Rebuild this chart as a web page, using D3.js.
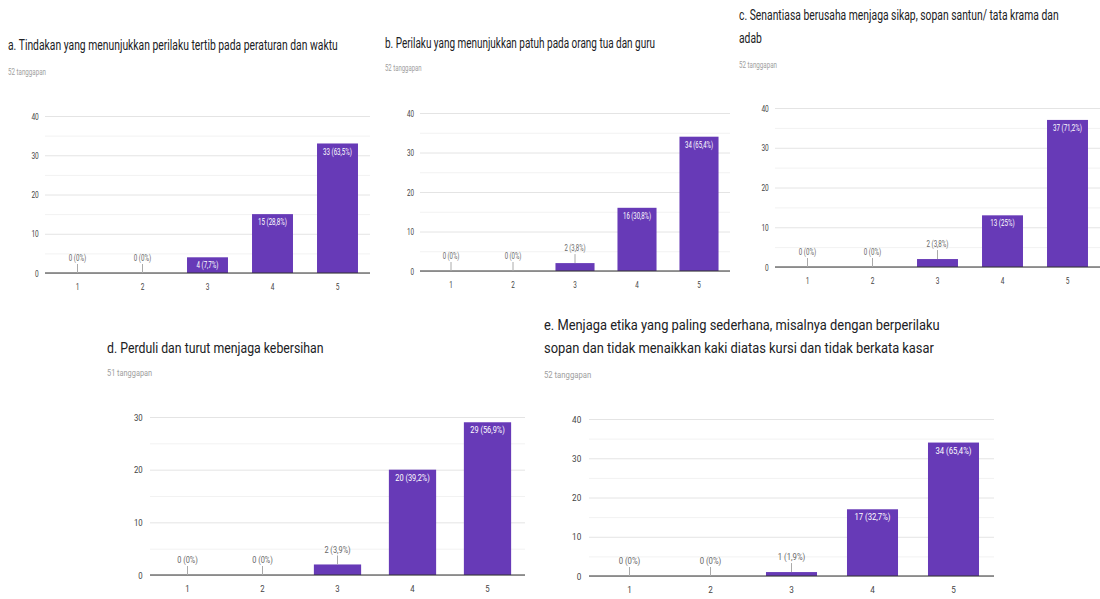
<!DOCTYPE html>
<html><head><meta charset="utf-8">
<script src="https://cdn.jsdelivr.net/npm/d3@7"></script>
<style>
html,body{margin:0;padding:0;background:#fff;}
svg{display:block;font-family:Roboto,"Noto Sans",sans-serif;}
</style></head><body>
<svg id="chart" width="1100" height="599"></svg>
<script>
const categories = ["1","2","3","4","5"];
const titleA = ["a. Tindakan yang menunjukkan perilaku tertib pada peraturan dan waktu"];
const titleB = ["b. Perilaku yang menunjukkan patuh pada orang tua dan guru"];
const titleC = ["c. Senantiasa berusaha menjaga sikap, sopan santun/ tata krama dan", "adab"];
const titleD = ["d. Perduli dan turut menjaga kebersihan"];
const titleE = ["e. Menjaga etika yang paling sederhana, misalnya dengan berperilaku", "sopan dan tidak menaikkan kaki diatas kursi dan tidak berkata kasar"];
const responses = [52, 52, 52, 51, 52];
const valuesA = [0, 0, 4, 15, 33];
const pctA = ["0%", "0%", "7,7%", "28,8%", "63,5%"];
const valuesB = [0, 0, 2, 16, 34];
const pctB = ["0%", "0%", "3,8%", "30,8%", "65,4%"];
const valuesC = [0, 0, 2, 13, 37];
const pctC = ["0%", "0%", "3,8%", "25%", "71,2%"];
const valuesD = [0, 0, 2, 20, 29];
const pctD = ["0%", "0%", "3,9%", "39,2%", "56,9%"];
const valuesE = [0, 0, 1, 17, 34];
const pctE = ["0%", "0%", "1,9%", "32,7%", "65,4%"];
const ticks40 = [0, 10, 20, 30, 40];
const ticks30 = [0, 10, 20, 30];

// layout (positions / horizontal text compression per panel)
const panels = [
  {title: titleA, n: responses[0], vals: valuesA, pct: pctA, ticks: ticks40, max: 40, sx: 0.69,  tx: 8,   ty: [45],       sy: 72,  left: 45,  right: 370,  y0: 273, yTop: 116},
  {title: titleB, n: responses[1], vals: valuesB, pct: pctB, ticks: ticks40, max: 40, sx: 0.665, tx: 385, ty: [43],       sy: 68,  left: 420, right: 730,  y0: 271, yTop: 113},
  {title: titleC, n: responses[2], vals: valuesC, pct: pctC, ticks: ticks40, max: 40, sx: 0.69,  tx: 739, ty: [15, 38],   sy: 65,  left: 775, right: 1100, y0: 267, yTop: 108},
  {title: titleD, n: responses[3], vals: valuesD, pct: pctD, ticks: ticks30, max: 30, sx: 0.82,  tx: 107, ty: [348],      sy: 373, left: 150, right: 525,  y0: 575, yTop: 417},
  {title: titleE, n: responses[4], vals: valuesE, pct: pctE, ticks: ticks40, max: 40, sx: 0.86,  tx: 544, ty: [325, 348], sy: 375, left: 589, right: 994,  y0: 576, yTop: 419}
];

const BAR = "#673ab7";
const svg = d3.select("#chart");

function addText(g, x, y, s, size, fill, anchor, sx) {
  return g.append("text")
    .attr("transform", `translate(${x},${y}) scale(${sx},1)`)
    .attr("font-size", size).attr("fill", fill)
    .attr("text-anchor", anchor || "start").attr("dy", "0.35em").text(s);
}

panels.forEach(p => {
  const g = svg.append("g");
  const sx = p.sx;
  p.title.forEach((line, i) => addText(g, p.tx, p.ty[i], line, 15, "#202124", "start", sx));
  addText(g, p.tx, p.sy, `${p.n} tanggapan`, 9, "#9e9e9e", "start", sx);

  const x = d3.scaleBand().domain(categories).range([p.left, p.right]).paddingInner(0.37).paddingOuter(0.185);
  const y = d3.scaleLinear().domain([0, p.max]).range([p.y0, p.yTop]);
  const w = p.right - p.left;

  const minor = d3.range(5, p.max, 10);
  g.append("g").attr("transform", `translate(${p.left},0)`)
    .call(d3.axisLeft(y).tickValues(minor).tickSize(-w).tickFormat(""))
    .call(a => a.select(".domain").remove())
    .call(a => a.selectAll("line").attr("stroke", "#f2f2f2"));

  g.append("g").attr("transform", `translate(${p.left},0)`)
    .call(d3.axisLeft(y).tickValues(p.ticks).tickSize(-w).tickPadding(9))
    .call(a => a.select(".domain").remove())
    .call(a => a.selectAll("line").attr("stroke", "#e4e4e4"))
    .call(a => a.selectAll("text").attr("font-size", 9.5).attr("fill", "#444")
      .attr("font-family", "Roboto").attr("transform", `scale(${sx},1)`));

  g.append("g").attr("transform", `translate(0,${p.y0})`)
    .call(d3.axisBottom(x).tickSize(0).tickPadding(10))
    .call(a => a.select(".domain").remove())
    .call(a => a.selectAll("text").attr("font-size", 9.5).attr("fill", "#444")
      .attr("font-family", "Roboto").attr("transform", `scale(${sx},1)`)
      .attr("x", 0));

  const data = categories.map((c, i) => ({c, v: p.vals[i], pct: p.pct[i]}));

  g.selectAll("rect.bar").data(data).join("rect").attr("class", "bar")
    .attr("x", d => x(d.c)).attr("width", x.bandwidth())
    .attr("y", d => y(d.v)).attr("height", d => p.y0 - y(d.v))
    .attr("fill", BAR);

  g.append("line").attr("x1", p.left).attr("x2", p.right)
    .attr("y1", p.y0).attr("y2", p.y0).attr("stroke", "#333").attr("stroke-width", 1.2);

  data.forEach(d => {
    const cx = x(d.c) + x.bandwidth() / 2;
    const top = y(d.v);
    const label = `${d.v} (${d.pct})`;
    if (p.y0 - top >= 14) {
      addText(g, cx, top + 8, label, 9, "#fff", "middle", sx);
    } else {
      g.append("line").attr("x1", cx).attr("x2", cx).attr("y1", top - 9).attr("y2", top)
        .attr("stroke", "#aaa").attr("stroke-width", 1);
      addText(g, cx, top - 15, label, 9, "#666", "middle", sx);
    }
  });
});
</script>
</body></html>
